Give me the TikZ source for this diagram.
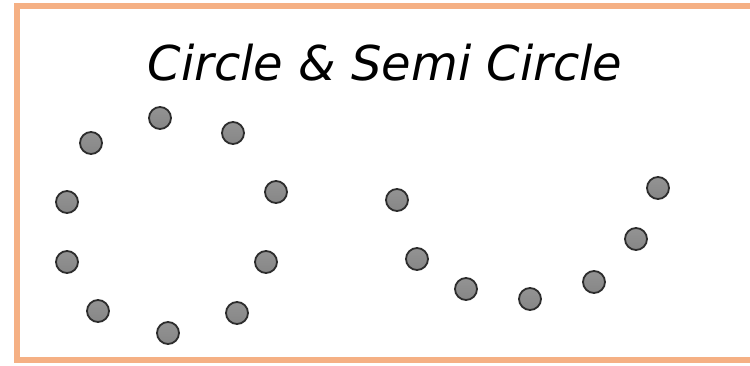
\documentclass[tikz,border=0pt]{standalone}
\usepackage{fontspec}
\newfontfamily\titlefont{DejaVu Sans}
\usetikzlibrary{positioning}
\definecolor{frameorange}{RGB}{245,176,132}
\definecolor{dotgray}{RGB}{128,128,128}
\definecolor{dotline}{RGB}{45,45,45}

\begin{document}
\begin{tikzpicture}[
    x=1pt, y=-1pt,
    frame/.style={draw=frameorange, line width=6pt},
    dot/.style={circle, draw=dotline, line width=1.8pt, inner sep=0pt, minimum size=22pt, top color=dotgray!85, bottom color=dotgray!105!black},
    heading/.style={font=\titlefont\itshape\fontsize{48}{50}\selectfont, text=black, anchor=base}
]
\useasboundingbox (0,0) rectangle (750,365);
\draw[frame] (17,6) rectangle (770,360);
\node[heading] (title) at (385,80) {Circle \& Semi Circle};
% circle
\node[dot] (c1) at (160,118) {};
\node[dot] (c2) at (233,133) {};
\node[dot] (c3) at (276,192) {};
\node[dot] (c4) at (266,262) {};
\node[dot] (c5) at (237,313) {};
\node[dot] (c6) at (168,333) {};
\node[dot] (c7) at (98,311) {};
\node[dot] (c8) at (67,262) {};
\node[dot] (c9) at (67,202) {};
\node[dot] (c10) at (91,143) {};
% semi circle
\node[dot] (s1) at (397,200) {};
\node[dot] (s2) at (417,259) {};
\node[dot] (s3) at (466,289) {};
\node[dot] (s4) at (530,299) {};
\node[dot] (s5) at (594,282) {};
\node[dot] (s6) at (636,239) {};
\node[dot] (s7) at (658,188) {};
\end{tikzpicture}
\end{document}
